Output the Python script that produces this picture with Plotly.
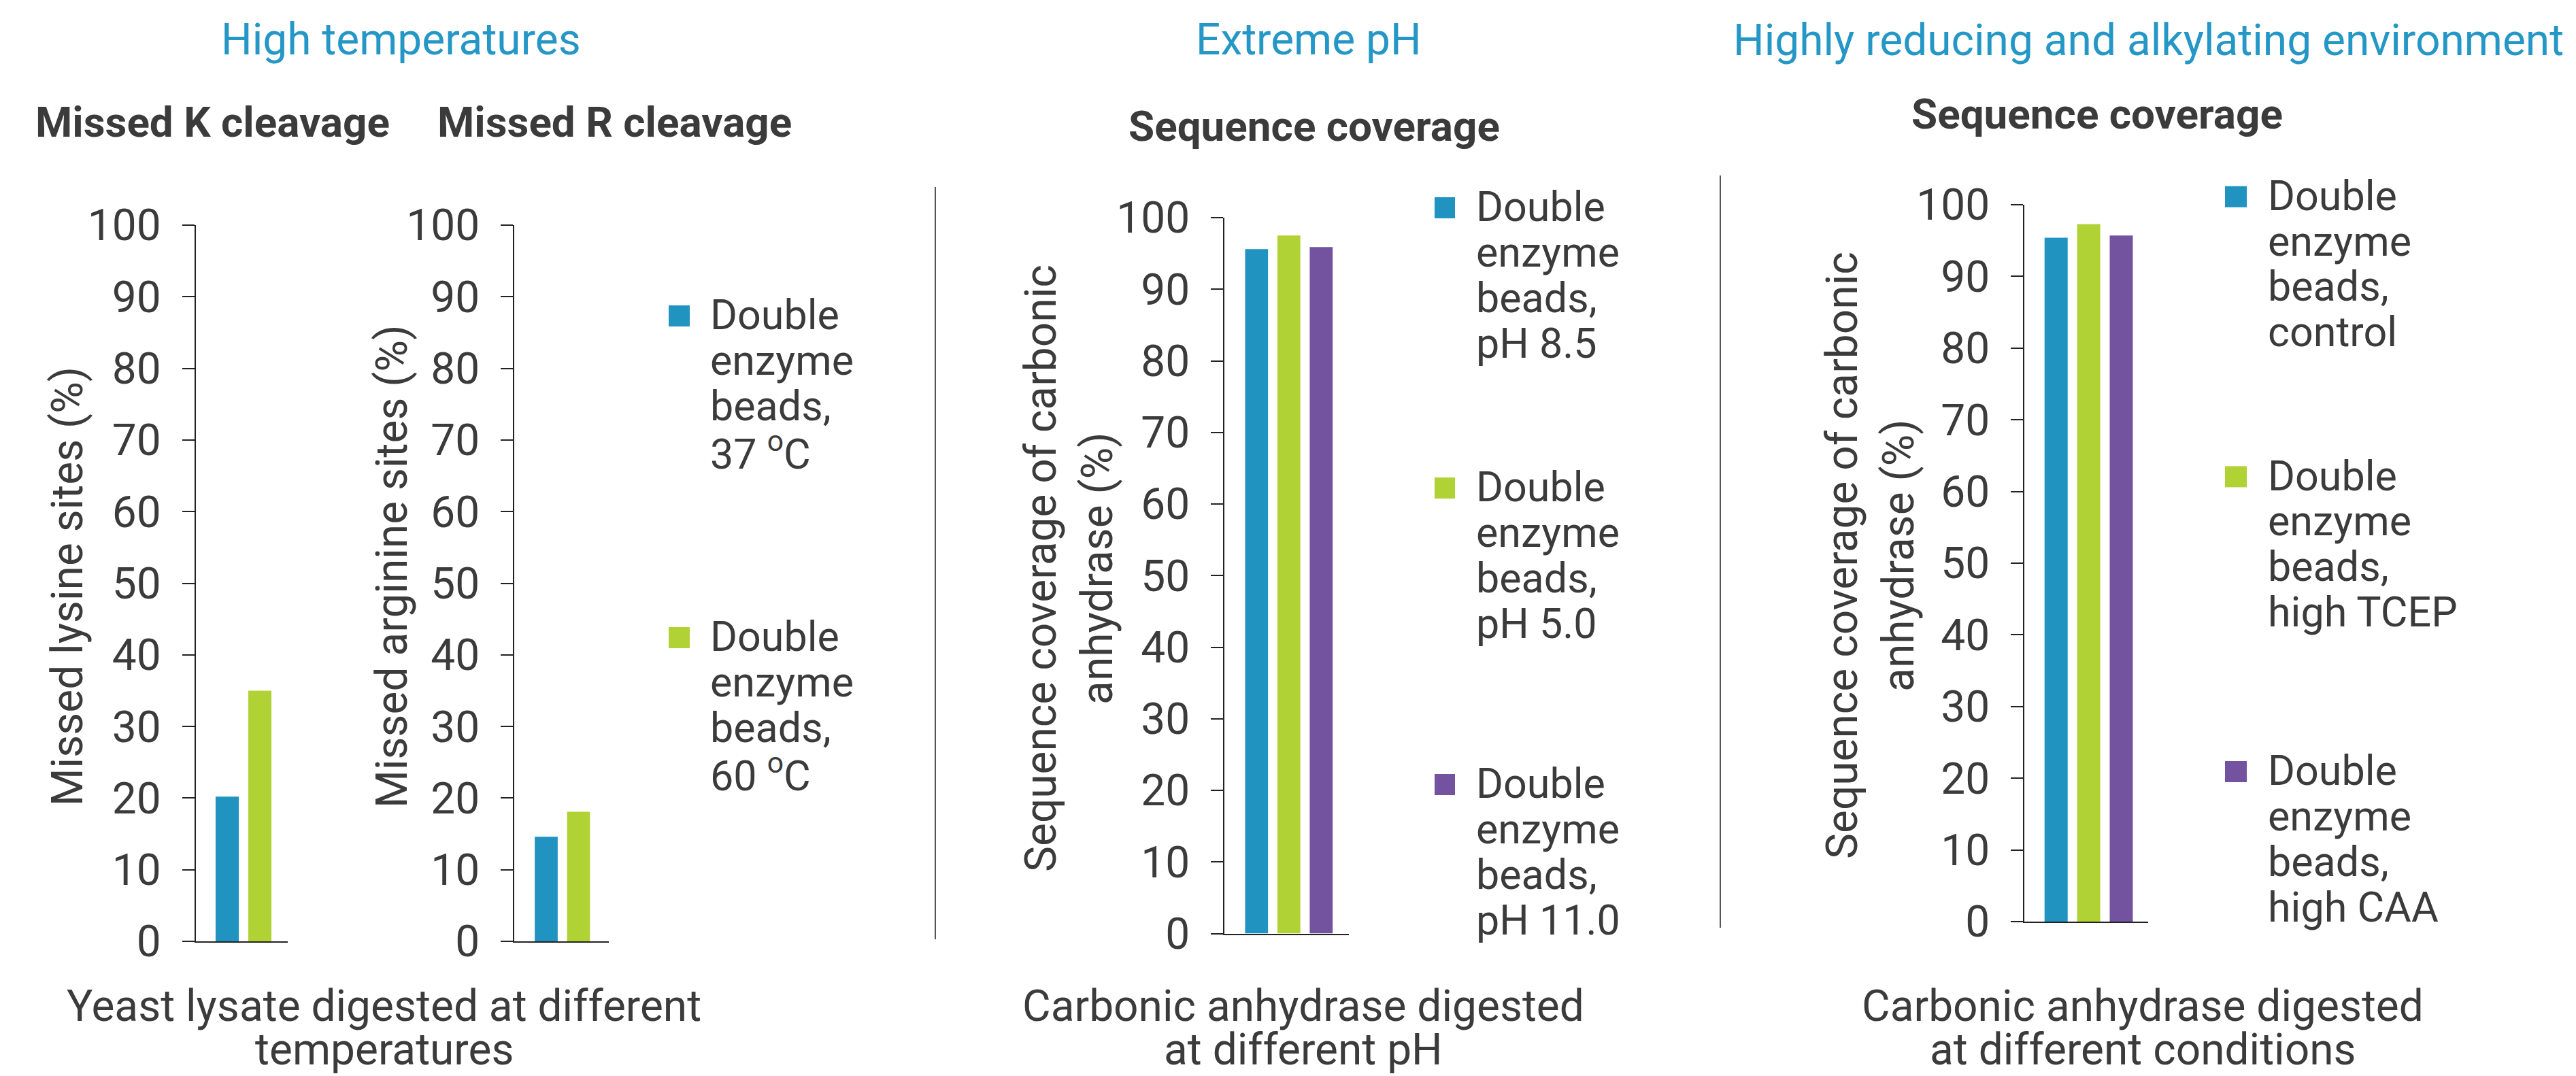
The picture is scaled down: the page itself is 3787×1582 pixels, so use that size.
import plotly.graph_objects as go

# ---------------- data ----------------
temp_categories = ["37 °C", "60 °C"]
missed_lysine = [20.2, 35.0]
missed_arginine = [14.6, 18.1]

ph_categories = ["pH 8.5", "pH 5.0", "pH 11.0"]
coverage_ph = [95.6, 97.5, 95.9]

cond_categories = ["control", "high TCEP", "high CAA"]
coverage_cond = [95.4, 97.3, 95.7]

y_ticks = [0, 10, 20, 30, 40, 50, 60, 70, 80, 90, 100]

legend_temp = [["Double", "enzyme", "beads,", "37 <sup>o</sup>C"],
               ["Double", "enzyme", "beads,", "60 <sup>o</sup>C"]]
legend_ph = [["Double", "enzyme", "beads,", "pH 8.5"],
             ["Double", "enzyme", "beads,", "pH 5.0"],
             ["Double", "enzyme", "beads,", "pH 11.0"]]
legend_cond = [["Double", "enzyme", "beads,", "control"],
               ["Double", "enzyme", "beads,", "high TCEP"],
               ["Double", "enzyme", "beads,", "high CAA"]]

section_titles = ["High temperatures", "Extreme pH", "Highly reducing and alkylating environment"]
panel_titles = ["Missed K cleavage", "Missed R cleavage", "Sequence coverage", "Sequence coverage"]
y_titles = ["Missed lysine sites (%)", "Missed arginine sites (%)",
            "Sequence coverage of carbonic<br>anhydrase (%)",
            "Sequence coverage of carbonic<br>anhydrase (%)"]
x_titles = [["Yeast lysate digested at different", "temperatures"],
            ["Carbonic anhydrase digested", "at different pH"],
            ["Carbonic anhydrase digested", "at different conditions"]]

# ---------------- styles ----------------
BLUE = "#2193c1"
GREEN = "#b1d235"
PURPLE = "#7352a0"
COLORS = [BLUE, GREEN, PURPLE]
TITLE_BLUE = "#2497c6"
TXT = "#3b3b3b"
AX = "#222222"
FONT = "Roboto"

W, H = 3787, 1582
OFF = 8  # page body margin offset


def fx(px):
    return (px - OFF) / W


def fy(py):
    return 1 - (py - OFF) / H


# panel geometry in pixels
panels = [
    dict(x0=287.5, x1=423, yb=1384, yt=331, c0=334, sp=48),
    dict(x0=756, x1=895, yb=1384, yt=331, c0=803, sp=47.5),
    dict(x0=1800, x1=1983, yb=1372.6, yt=320, c0=1847.3, sp=47.5),
    dict(x0=2976, x1=3158, yb=1355, yt=301, c0=3022.7, sp=47.9),
]
series = [(temp_categories, missed_lysine), (temp_categories, missed_arginine),
          (ph_categories, coverage_ph), (cond_categories, coverage_cond)]

fig = go.Figure()
layout = dict(
    template="none",
    width=W, height=H, margin=dict(l=0, r=0, t=0, b=0, pad=0, autoexpand=False),
    autosize=False,
    paper_bgcolor="white", plot_bgcolor="white",
    showlegend=False, bargap=0.29,
    font=dict(family=FONT, color=TXT, size=64),
)

for i, (p, (cats, vals)) in enumerate(zip(panels, series)):
    sfx = "" if i == 0 else str(i + 1)
    fig.add_trace(go.Bar(
        x=cats, y=vals, marker=dict(color=COLORS[:len(cats)], line=dict(width=0)),
        xaxis="x" + sfx, yaxis="y" + sfx, hoverinfo="x+y",
    ))
    layout["xaxis" + sfx] = dict(
        domain=[fx(p["x0"]), fx(p["x1"])], anchor="y" + sfx, automargin=False,
        type="category", range=[(p["x0"] - p["c0"]) / p["sp"], (p["x1"] - p["c0"]) / p["sp"]],
        showline=True, linewidth=2, linecolor=AX, showticklabels=False, ticks="",
        showgrid=False, zeroline=False, fixedrange=True,
    )
    layout["yaxis" + sfx] = dict(
        domain=[fy(p["yb"]), fy(p["yt"])], anchor="x" + sfx, automargin=False,
        range=[0, 100], tickmode="array", tickvals=y_ticks,
        showline=True, linewidth=2, linecolor=AX, ticks="outside", ticklen=18,
        tickwidth=2, tickcolor=AX, tickfont=dict(family=FONT, size=64, color=TXT),
        ticklabelstandoff=18, showgrid=False, zeroline=False, fixedrange=True,
    )

ann = []


def text(x, y, s, size=64, color=TXT, xanchor="center", angle=0, weight="normal"):
    ann.append(dict(x=fx(x), y=fy(y), xref="paper", yref="paper", text=s,
                    showarrow=False, xanchor=xanchor, yanchor="middle", textangle=angle,
                    font=dict(family=FONT, size=size, color=color, weight=weight)))


# section titles (baseline -> center)
for s, cx, base in zip(section_titles, [589, 1924, 3158], [80, 80.6, 81.6]):
    text(cx, base - 0.342 * 64, s, size=64, color=TITLE_BLUE)

# panel titles
for s, cx, base in zip(panel_titles, [312, 903, 1932, 3083], [201, 201, 206.6, 189]):
    text(cx, base - 0.342 * 62, s, size=62, weight="bold")

# y-axis titles
for s, cx, cy in zip(y_titles, [99.8, 576.4, 1572, 2750], [862.5, 832.5, 836, 817]):
    text(cx, cy, s, size=64, angle=-90)

# x-axis titles (two lines each)
for lines, cx in zip(x_titles, [564.5, 1916, 3150]):
    for k, (ln, base) in enumerate(zip(lines, [1501, 1565])):
        text(cx, base - 0.342 * 64, ln, size=64)

# legends
LS = 66.8
shapes = []
legend_specs = [
    (legend_temp, 983, 1014, 1042, [484, 957]),
    (legend_ph, 2109, 2139, 2168, [325, 737, 1173]),
    (legend_cond, 3271, 3303, 3332, [308.7, 720.4, 1154]),
]
for entries, sx0, sx1, tx, bases in legend_specs:
    for j, (lines, b) in enumerate(zip(entries, bases)):
        shapes.append(dict(type="rect", xref="paper", yref="paper",
                           x0=fx(sx0), x1=fx(sx1), y0=fy(b - 4), y1=fy(b - 35),
                           fillcolor=COLORS[j], line=dict(width=0)))
        for k, ln in enumerate(lines):
            text(tx, b + k * LS - 0.342 * 61, ln, size=61, xanchor="left")

# separators
for xx, y0, y1 in [(1375, 275, 1381), (2529, 258, 1364)]:
    shapes.append(dict(type="line", xref="paper", yref="paper",
                       x0=fx(xx), x1=fx(xx), y0=fy(y0), y1=fy(y1),
                       line=dict(color="#555555", width=2)))

layout["annotations"] = ann
layout["shapes"] = shapes
fig.update_layout(**layout)
fig.write_html("out.html")
